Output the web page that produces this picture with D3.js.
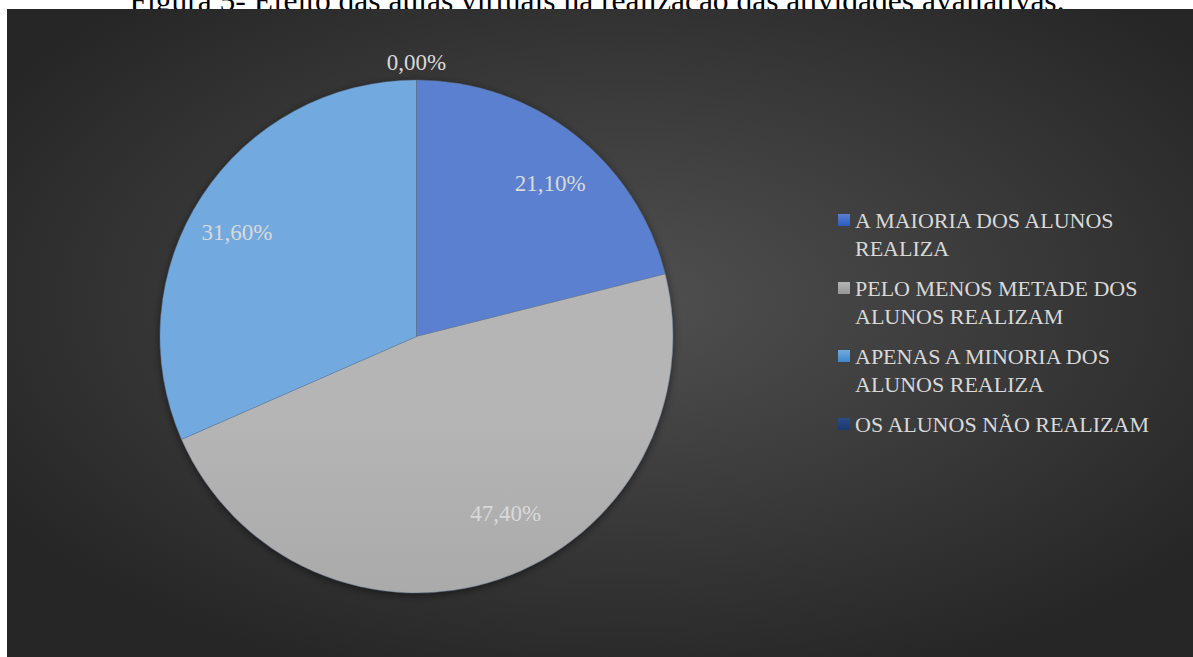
<!DOCTYPE html>
<html><head><meta charset="utf-8">
<script src="https://cdn.jsdelivr.net/npm/d3@7"></script>
<style>html,body{margin:0;padding:0;background:#fff;overflow:hidden}</style>
</head><body>
<svg id="c" width="1193" height="657"></svg>
<script>
const title = "Figura 5- Efeito das aulas virtuais na realização das atividades avaliativas.";
const categories = ["A MAIORIA DOS ALUNOS REALIZA","PELO MENOS METADE DOS ALUNOS REALIZAM","APENAS A MINORIA DOS ALUNOS REALIZA","OS ALUNOS NÃO REALIZAM"];
const legendLines = [["A MAIORIA DOS ALUNOS","REALIZA"],["PELO MENOS METADE DOS","ALUNOS REALIZAM"],["APENAS A MINORIA DOS","ALUNOS REALIZA"],["OS ALUNOS NÃO REALIZAM"]];
const values = [21.1, 47.4, 31.6, 0.0];
const labels = ["21,10%","47,40%","31,60%","0,00%"];

const colorsTop = ["#5b80d0","#b5b5b5","#72aae0","#2a4a8a"];
const colorsBot = ["#2c5cbc","#969696","#3f86ca","#1d3870"];
// label placement tweaks (angle nudge in degrees, radius factor) for best-fit look
const labelAdj = [[3,0.795],[-8,0.77],[-3,0.81],[0,1.07]];

const FONT = "'Liberation Serif', 'Times New Roman', serif";
const svg = d3.select("#c");
const W = 1193, H = 657;
const defs = svg.append("defs");
const bg = defs.append("radialGradient").attr("id","bg").attr("cx","0.52").attr("cy","0.45").attr("r","0.62");
bg.append("stop").attr("offset","0").attr("stop-color","#505050");
bg.append("stop").attr("offset","1").attr("stop-color","#262626");

svg.append("text").attr("x",597).attr("y",11).attr("text-anchor","middle")
  .style("font-family",FONT).attr("font-size",31.5).attr("fill","#000").text(title);

svg.append("rect").attr("x",7).attr("y",9).attr("width",W-7).attr("height",H-9).attr("fill","url(#bg)");

const cx = 416.5, cy = 336.5, r = 256.5;
colorsTop.forEach((c,i)=>{
  const g = defs.append("linearGradient").attr("id","g"+i).attr("gradientUnits","userSpaceOnUse")
    .attr("x1",0).attr("y1",cy-r).attr("x2",0).attr("y2",cy+r);
  g.append("stop").attr("offset","0").attr("stop-color",c);
  g.append("stop").attr("offset","1").attr("stop-color",colorsBot[i]);
  const lg = defs.append("linearGradient").attr("id","lg"+i).attr("x1",0).attr("y1",0).attr("x2",0).attr("y2",1);
  lg.append("stop").attr("offset","0").attr("stop-color",c);
  lg.append("stop").attr("offset","1").attr("stop-color",colorsBot[i]);
});
const sh = defs.append("filter").attr("id","sh").attr("x","-20%").attr("y","-20%").attr("width","140%").attr("height","140%");
sh.append("feGaussianBlur").attr("in","SourceAlpha").attr("stdDeviation",4);
sh.append("feOffset").attr("dx",0).attr("dy",2).attr("result","b");
sh.append("feComponentTransfer").append("feFuncA").attr("type","linear").attr("slope",0.5);
const m = sh.append("feMerge"); m.append("feMergeNode"); m.append("feMergeNode").attr("in","SourceGraphic");

const pie = d3.pie().sort(null).value(d=>d)(values);
const arc = d3.arc().innerRadius(0).outerRadius(r);
const gp = svg.append("g").attr("transform",`translate(${cx},${cy})`).attr("filter","url(#sh)");
gp.selectAll("path").data(pie).join("path")
  .attr("d",arc).attr("fill",(d,i)=>`url(#g${i})`)
  .attr("stroke","#5a6f90").attr("stroke-width",0.6).attr("stroke-opacity",0.6);

svg.append("g").attr("transform",`translate(${cx},${cy})`).selectAll("text").data(pie).join("text")
  .attr("transform",(d,i)=>{
    const a = (d.startAngle+d.endAngle)/2 + labelAdj[i][0]*Math.PI/180;
    const rr = r*labelAdj[i][1];
    return `translate(${rr*Math.sin(a)},${-rr*Math.cos(a)})`;
  })
  .attr("text-anchor","middle").attr("dy","0.35em")
  .style("font-family",FONT).attr("font-size",23).attr("fill","#d9d9d9")
  .text((d,i)=>labels[i]);

const lgX = 838, lgTop = 220, lh = 28, gap = 40;
let y = lgTop;
const leg = svg.append("g");
legendLines.forEach((lines,i)=>{
  leg.append("rect").attr("x",lgX).attr("y",y-6).attr("width",12).attr("height",12).attr("fill",`url(#lg${i})`);
  lines.forEach((t,j)=>{
    leg.append("text").attr("x",lgX+17).attr("y",y+j*lh).attr("dy","0.35em")
      .style("font-family",FONT).attr("font-size",22).attr("fill","#d9d9d9").text(t);
  });
  y += (lines.length-1)*lh + gap;
});
</script>
</body></html>
